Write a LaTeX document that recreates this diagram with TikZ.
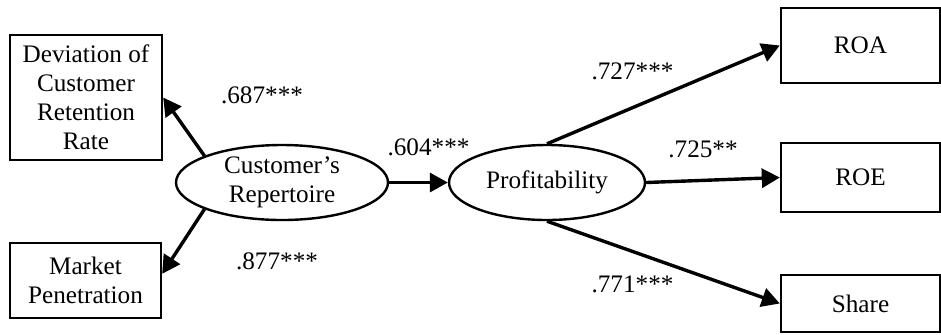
\documentclass[tikz,border=0pt]{standalone}
\usepackage{fontspec}
\setmainfont{Liberation Serif}
\usepackage{tikz}
\usetikzlibrary{shapes, arrows.meta}

\begin{document}
\begin{tikzpicture}[x=0.5pt, y=-0.5pt,
        box/.style={rectangle, draw, line width=1.2pt, align=center, inner sep=0pt},
        latent/.style={ellipse, draw, line width=1.2pt, align=center, inner sep=0pt, minimum height=37.5pt},
        coef/.style={inner sep=0pt},
        link/.style={line width=1.7pt, -{Triangle[length=9pt, width=9.5pt]}},
        every node/.style={font=\fontsize{12.6}{14.5}\selectfont}]
        \useasboundingbox (0, 0) rectangle (941, 334);

        \node[box, minimum width=76pt, minimum height=62.5pt] at (86, 97.5) (dev) {Deviation of\\Customer\\Retention\\Rate};
        \node[box, minimum width=75.5pt, minimum height=37.5pt] at (85.5, 280.5) (mkt) {Market\\Penetration};
        \node[latent, minimum width=106pt] at (282, 182.5) (rep) {Customer’s\\Repertoire};
        \node[latent, minimum width=98pt] at (547, 182.5) (prof) {Profitability};
        \node[box, minimum width=79.5pt, minimum height=37.5pt] at (860.5, 45.5) (roa) {ROA};
        \node[box, minimum width=79.5pt, minimum height=34.5pt] at (860.5, 177.5) (roe) {ROE};
        \node[box, minimum width=79.5pt, minimum height=28.5pt] at (860.5, 303.5) (share) {Share};

        \draw[link] (rep.161) to (dev.east);
        \draw[link] (rep.199) to (mkt.5);
        \draw[link] (rep.east) to (prof.west);
        \draw[link] (prof.north) to (roa.west);
        \draw[link] (prof.east) to (roe.west);
        \draw[link] (prof.south) to (share.west);

        \node[coef] at (262, 95) (c1) {.687***};
        \node[coef] at (277, 261) (c2) {.877***};
        \node[coef] at (428.5, 147) (c3) {.604***};
        \node[coef] at (632.5, 71) (c4) {.727***};
        \node[coef] at (703, 149) (c5) {.725**};
        \node[coef] at (632.5, 284) (c6) {.771***};
    \end{tikzpicture}
\end{document}
